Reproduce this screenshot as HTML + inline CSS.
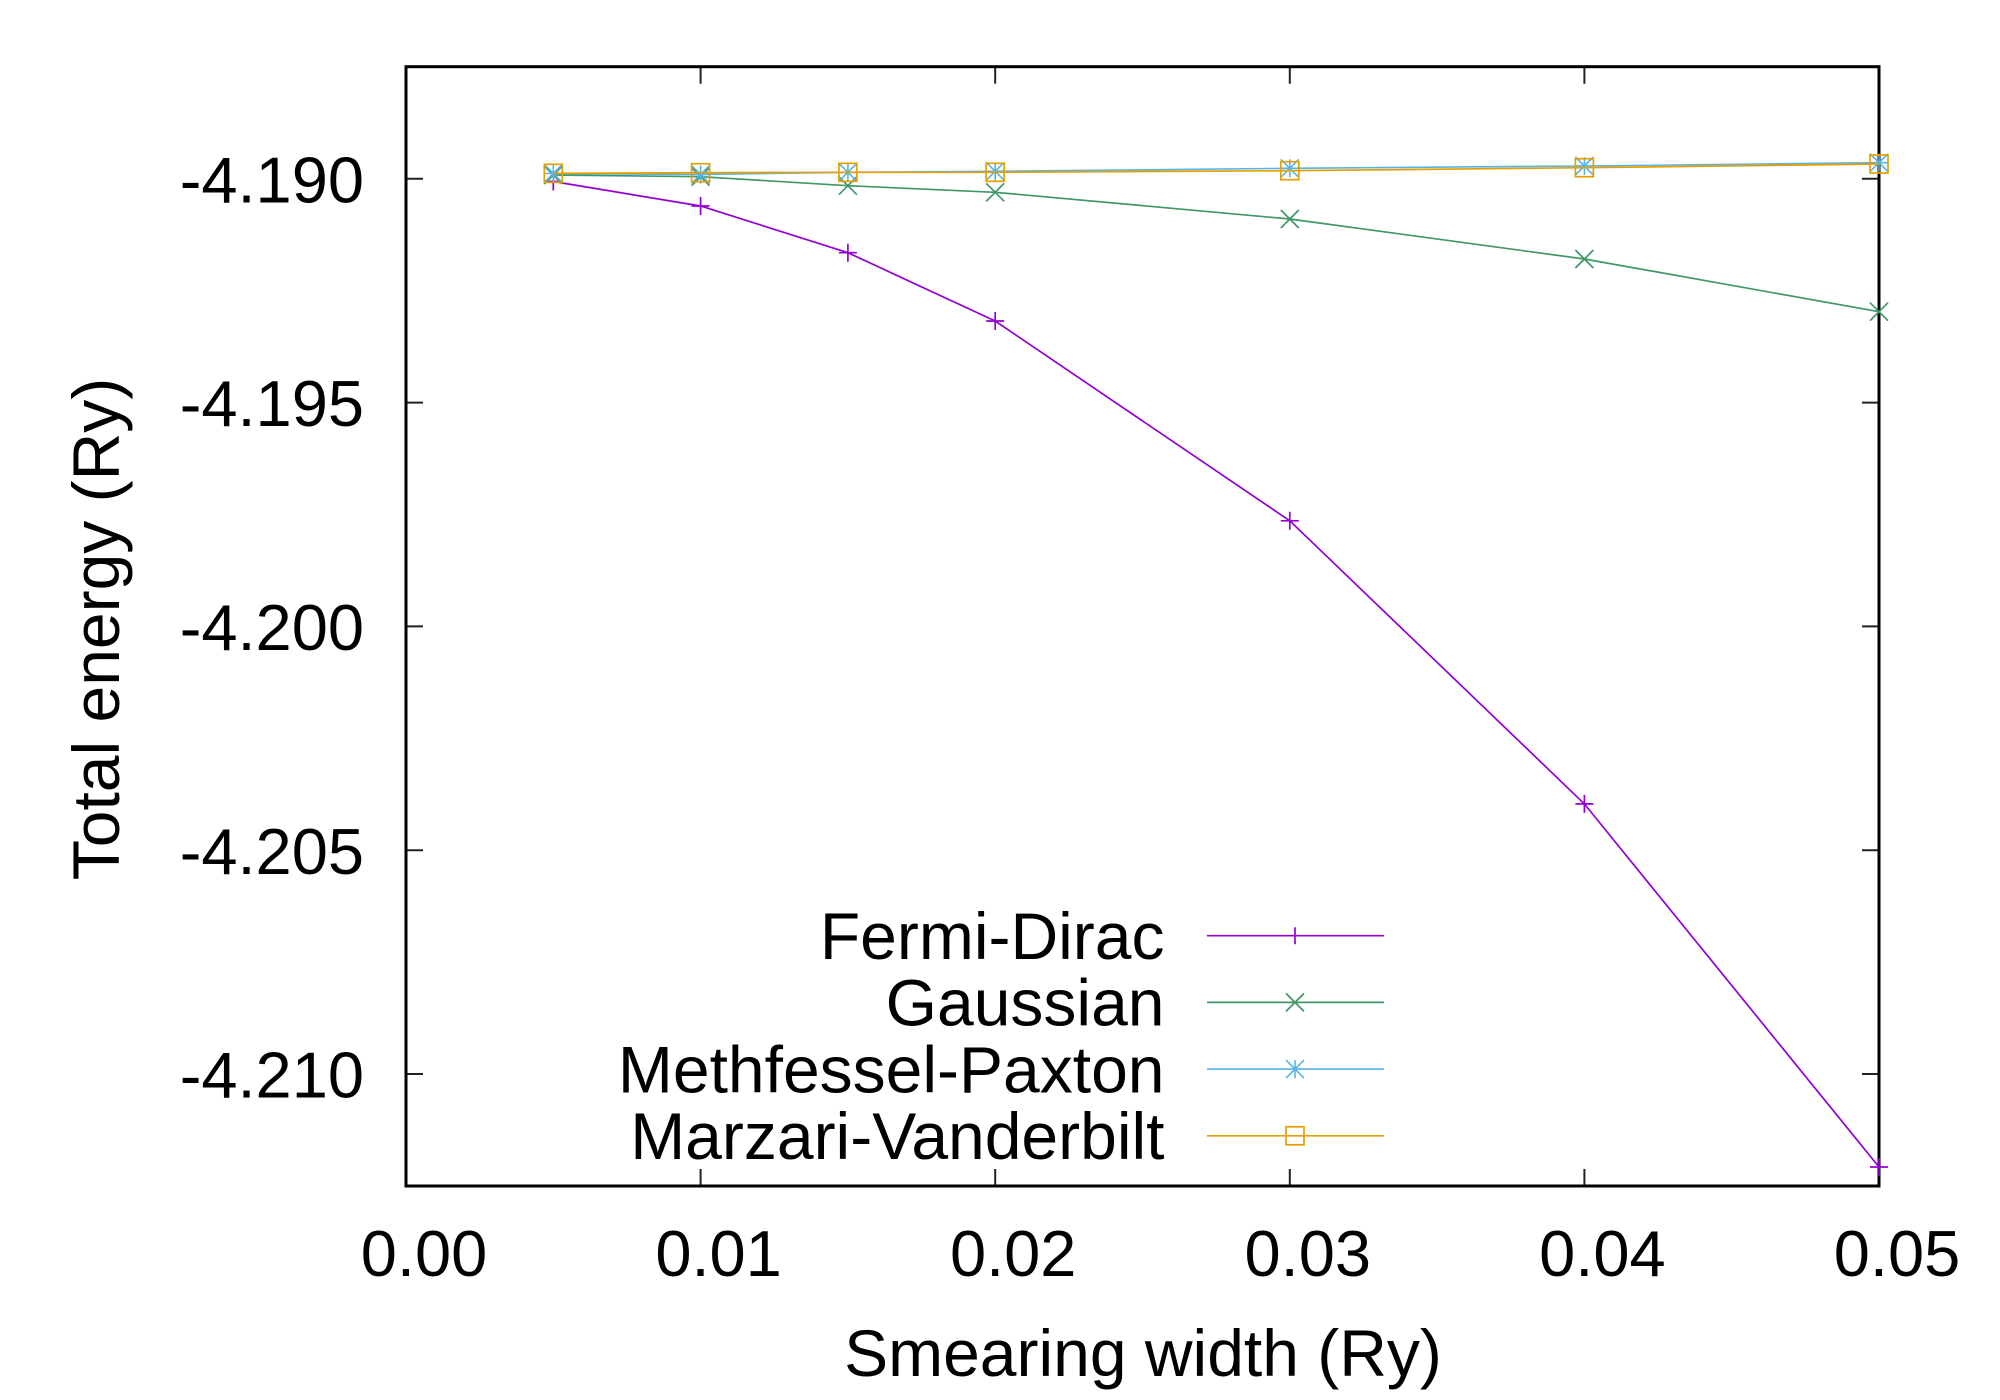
<!DOCTYPE html>
<html>
<head>
<meta charset="utf-8">
<style>
html,body{margin:0;padding:0;background:#fff;}
svg{display:block;}
text{font-family:"Liberation Sans",Arial,Helvetica,sans-serif;fill:#000;}
</style>
</head>
<body>
<svg width="2000" height="1400" viewBox="0 0 2000 1400" xmlns="http://www.w3.org/2000/svg">
<rect x="0" y="0" width="2000" height="1400" fill="#fff"/>

<!-- ticks -->
<g stroke="#222" stroke-width="2" fill="none">
  <path d="M406 178.8h17 M406 402.6h17 M406 626.4h17 M406 850.2h17 M406 1074h17"/>
  <path d="M1879 178.8h-17 M1879 402.6h-17 M1879 626.4h-17 M1879 850.2h-17 M1879 1074h-17"/>
  <path d="M700.6 1186v-17 M995.2 1186v-17 M1289.8 1186v-17 M1584.4 1186v-17"/>
  <path d="M700.6 66.7v17 M995.2 66.7v17 M1289.8 66.7v17 M1584.4 66.7v17"/>
</g>

<!-- frame -->
<rect x="406" y="66.7" width="1473" height="1119.3" fill="none" stroke="#000" stroke-width="3"/>

<!-- y tick labels -->
<g font-size="65" text-anchor="end">
  <text x="364" y="202.4">-4.190</text>
  <text x="364" y="426.2">-4.195</text>
  <text x="364" y="650">-4.200</text>
  <text x="364" y="873.8">-4.205</text>
  <text x="364" y="1097.6">-4.210</text>
</g>

<!-- x tick labels -->
<g font-size="65" text-anchor="middle">
  <text x="424" y="1276">0.00</text>
  <text x="718.6" y="1276">0.01</text>
  <text x="1013.2" y="1276">0.02</text>
  <text x="1307.8" y="1276">0.03</text>
  <text x="1602.4" y="1276">0.04</text>
  <text x="1897" y="1276">0.05</text>
</g>

<!-- axis labels -->
<text x="1143" y="1376" font-size="66" text-anchor="middle">Smearing width (Ry)</text>
<text transform="translate(119,629) rotate(-90)" font-size="66" text-anchor="middle">Total energy (Ry)</text>

<!-- Fermi-Dirac -->
<g stroke="#9400d3" stroke-width="1.7" fill="none">
  <polyline points="553.3,181.5 700.6,206 847.9,252.7 995.2,321 1289.8,520.8 1584.4,803.9 1879,1167"/>
  <path d="M544.3 181.5h18 M553.3 172.5v18
           M691.6 206h18 M700.6 197v18
           M838.9 252.7h18 M847.9 243.7v18
           M986.2 321h18 M995.2 312v18
           M1280.8 520.8h18 M1289.8 511.8v18
           M1575.4 803.9h18 M1584.4 794.9v18
           M1870 1167h18 M1879 1158v18"/>
</g>

<!-- Gaussian -->
<g stroke="#3f9866" stroke-width="1.7" fill="none">
  <polyline points="553.3,175 700.6,176.7 847.9,185.7 995.2,192.3 1289.8,219 1584.4,259 1879,311.7"/>
  <path d="M544.3 166l18 18 M544.3 184l18 -18
           M691.6 167.7l18 18 M691.6 185.7l18 -18
           M838.9 176.7l18 18 M838.9 194.7l18 -18
           M986.2 183.3l18 18 M986.2 201.3l18 -18
           M1280.8 210l18 18 M1280.8 228l18 -18
           M1575.4 250l18 18 M1575.4 268l18 -18
           M1870 302.7l18 18 M1870 320.7l18 -18"/>
</g>

<!-- Methfessel-Paxton -->
<g stroke="#56b4e9" stroke-width="1.6" fill="none">
  <polyline points="553.3,173.5 700.6,174.5 847.9,172.3 995.2,171.3 1289.8,168.3 1584.4,166 1879,162.7"/>
  <path d="M544.3 164.5l18 18 M544.3 182.5l18 -18 M544.3 173.5h18 M553.3 164.5v18
           M691.6 165.5l18 18 M691.6 183.5l18 -18 M691.6 174.5h18 M700.6 165.5v18
           M838.9 163.3l18 18 M838.9 181.3l18 -18 M838.9 172.3h18 M847.9 163.3v18
           M986.2 162.3l18 18 M986.2 180.3l18 -18 M986.2 171.3h18 M995.2 162.3v18
           M1280.8 159.3l18 18 M1280.8 177.3l18 -18 M1280.8 168.3h18 M1289.8 159.3v18
           M1575.4 157l18 18 M1575.4 175l18 -18 M1575.4 166h18 M1584.4 157v18
           M1870 153.7l18 18 M1870 171.7l18 -18 M1870 162.7h18 M1879 153.7v18"/>
</g>

<!-- Marzari-Vanderbilt -->
<g stroke="#e69f00" stroke-width="1.7" fill="none">
  <polyline points="553.3,173.3 700.6,172.7 847.9,172.3 995.2,172.3 1289.8,170.7 1584.4,167.7 1879,164"/>
  <rect x="544.3" y="164.3" width="18" height="18"/>
  <rect x="691.6" y="163.7" width="18" height="18"/>
  <rect x="838.9" y="163.3" width="18" height="18"/>
  <rect x="986.2" y="163.3" width="18" height="18"/>
  <rect x="1280.8" y="161.7" width="18" height="18"/>
  <rect x="1575.4" y="158.7" width="18" height="18"/>
  <rect x="1870" y="155" width="18" height="18"/>
</g>

<!-- legend -->
<g font-size="66" text-anchor="end">
  <text x="1164.5" y="959">Fermi-Dirac</text>
  <text x="1164.5" y="1025.7">Gaussian</text>
  <text x="1164.5" y="1092.4">Methfessel-Paxton</text>
  <text x="1164.5" y="1159.1">Marzari-Vanderbilt</text>
</g>
<g fill="none">
  <g stroke="#9400d3" stroke-width="1.7">
    <path d="M1207 935.7H1384 M1295 927.2v17"/>
  </g>
  <g stroke="#3f9866" stroke-width="1.7">
    <path d="M1207 1002.4H1384 M1286 993.4l18 18 M1286 1011.4l18 -18"/>
  </g>
  <g stroke="#56b4e9" stroke-width="1.6">
    <path d="M1207 1069.1H1384 M1286 1060.1l18 18 M1286 1078.1l18 -18 M1295 1060.1v18"/>
  </g>
  <g stroke="#e69f00" stroke-width="1.7">
    <path d="M1207 1135.8H1384"/>
    <rect x="1286" y="1126.8" width="18" height="18"/>
  </g>
</g>
</svg>
</body>
</html>
